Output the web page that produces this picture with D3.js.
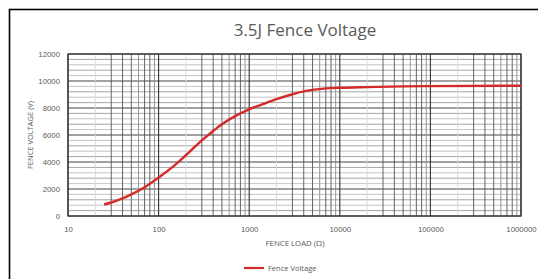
<!DOCTYPE html>
<html>
<head>
<meta charset="utf-8">
<script src="https://cdn.jsdelivr.net/npm/d3@7"></script>
<style>
  html, body { margin: 0; padding: 0; background: #fff; }
  svg { display: block; font-family: "Open Sans", "Noto Sans", sans-serif; }
</style>
</head>
<body>
<div id="chart"></div>
<script>
// Fence voltage vs fence load.
const loads    = [25, 30, 40, 50, 60, 70, 80, 100, 150, 200, 300, 400, 500, 700, 1000, 1500, 2000, 3000, 4000, 5000, 7000, 10000, 20000, 50000, 100000, 1000000];
const voltages = [850, 1000, 1300, 1600, 1870, 2120, 2380, 2850, 3750, 4500, 5600, 6300, 6800, 7400, 7900, 8350, 8650, 9020, 9230, 9340, 9450, 9500, 9550, 9600, 9620, 9650];
const xTicks = [10, 100, 1000, 10000, 100000, 1000000];
const yTicks = [0, 2000, 4000, 6000, 8000, 10000, 12000];
const yMinorStep = 400;
const seriesName = "Fence Voltage";

const W = 538, H = 279;
const plot = { left: 68, right: 521, top: 54, bottom: 216 };

const svg = d3.select("#chart").append("svg").attr("width", W).attr("height", H);

// outer frame
svg.append("rect")
  .attr("x", 9.5).attr("y", 9.5).attr("width", W + 10).attr("height", H + 10)
  .attr("fill", "#fff").attr("stroke", "#000").attr("stroke-width", 1.6);

const x = d3.scaleLog().domain([10, 1000000]).range([plot.left, plot.right]);
const y = d3.scaleLinear().domain([0, 12000]).range([plot.bottom, plot.top]);

const grid = svg.append("g");

// horizontal minor + major lines
const yMinor = d3.range(0, 12000 + 1, yMinorStep);
grid.selectAll("line.hmin").data(yMinor).enter().append("line")
  .attr("x1", plot.left).attr("x2", plot.right)
  .attr("y1", d => y(d)).attr("y2", d => y(d))
  .attr("stroke", (d, i) => (d % 2000 === 0 ? "#444" : (i % 2 ? "#9a9a9a" : "#bdbdbd")))
  .attr("stroke-width", d => (d % 2000 === 0 ? 1.1 : 0.9));

// vertical minor lines (2..9 in every decade)
const xMinor = [];
for (let dec = 10; dec < 1000000; dec *= 10)
  for (let m = 2; m <= 9; m++) xMinor.push({ v: dec * m, m });
grid.selectAll("line.vmin").data(xMinor).enter().append("line")
  .attr("y1", plot.top).attr("y2", plot.bottom)
  .attr("x1", d => x(d.v)).attr("x2", d => x(d.v))
  .attr("stroke", d => (d.m === 2 ? "#d6d6d6" : d.m === 6 || d.m === 9 ? "#8a8a8a" : "#555"))
  .attr("stroke-width", 0.9);

grid.selectAll("line.vmaj").data(xTicks).enter().append("line")
  .attr("y1", plot.top).attr("y2", plot.bottom)
  .attr("x1", d => x(d)).attr("x2", d => x(d))
  .attr("stroke", "#333").attr("stroke-width", 1.1);

// plot frame
svg.append("rect")
  .attr("x", plot.left).attr("y", plot.top)
  .attr("width", plot.right - plot.left).attr("height", plot.bottom - plot.top)
  .attr("fill", "none").attr("stroke", "#333").attr("stroke-width", 1.2);

// axes labels
const yAxis = d3.axisLeft(y).tickValues(yTicks).tickSize(0).tickPadding(8).tickFormat(d3.format("d"));
svg.append("g").attr("transform", `translate(${plot.left},0)`).call(yAxis)
  .call(g => g.select(".domain").remove())
  .selectAll("text").attr("fill", "#595959").attr("font-size", 7.8).attr("font-family", "inherit");

const xAxis = d3.axisBottom(x).tickValues(xTicks).tickSize(0).tickPadding(10).tickFormat(d3.format("d"));
svg.append("g").attr("transform", `translate(0,${plot.bottom})`).call(xAxis)
  .call(g => g.select(".domain").remove())
  .selectAll("text").attr("fill", "#595959").attr("font-size", 7.8).attr("font-family", "inherit");

// series line
const line = d3.line().x((d, i) => x(loads[i])).y(d => y(d)).curve(d3.curveMonotoneX);
svg.append("path").datum(voltages)
  .attr("d", line).attr("fill", "none")
  .attr("stroke", "#d42a2a").attr("stroke-width", 2.4);

// title & axis titles
svg.append("text").attr("x", 305).attr("y", 36).attr("text-anchor", "middle")
  .attr("font-size", 17).attr("fill", "#595959").text("3.5J Fence Voltage");

svg.append("text").attr("x", 295).attr("y", 246).attr("text-anchor", "middle")
  .attr("font-size", 7.8).attr("fill", "#595959").text("FENCE LOAD (Ω)");

svg.append("text").attr("transform", `translate(33,${(plot.top + plot.bottom) / 2}) rotate(-90)`)
  .attr("text-anchor", "middle").attr("font-size", 7.5).attr("fill", "#595959")
  .text("FENCE VOLTAGE (V)");

// legend
const lg = svg.append("g").attr("transform", "translate(244,268)");
lg.append("line").attr("x1", 0).attr("x2", 20).attr("y1", 0).attr("y2", 0)
  .attr("stroke", "#d42a2a").attr("stroke-width", 2.2);
lg.append("text").attr("x", 24).attr("y", 2.6).attr("font-size", 7.5).attr("fill", "#595959").text(seriesName);
</script>
</body>
</html>
